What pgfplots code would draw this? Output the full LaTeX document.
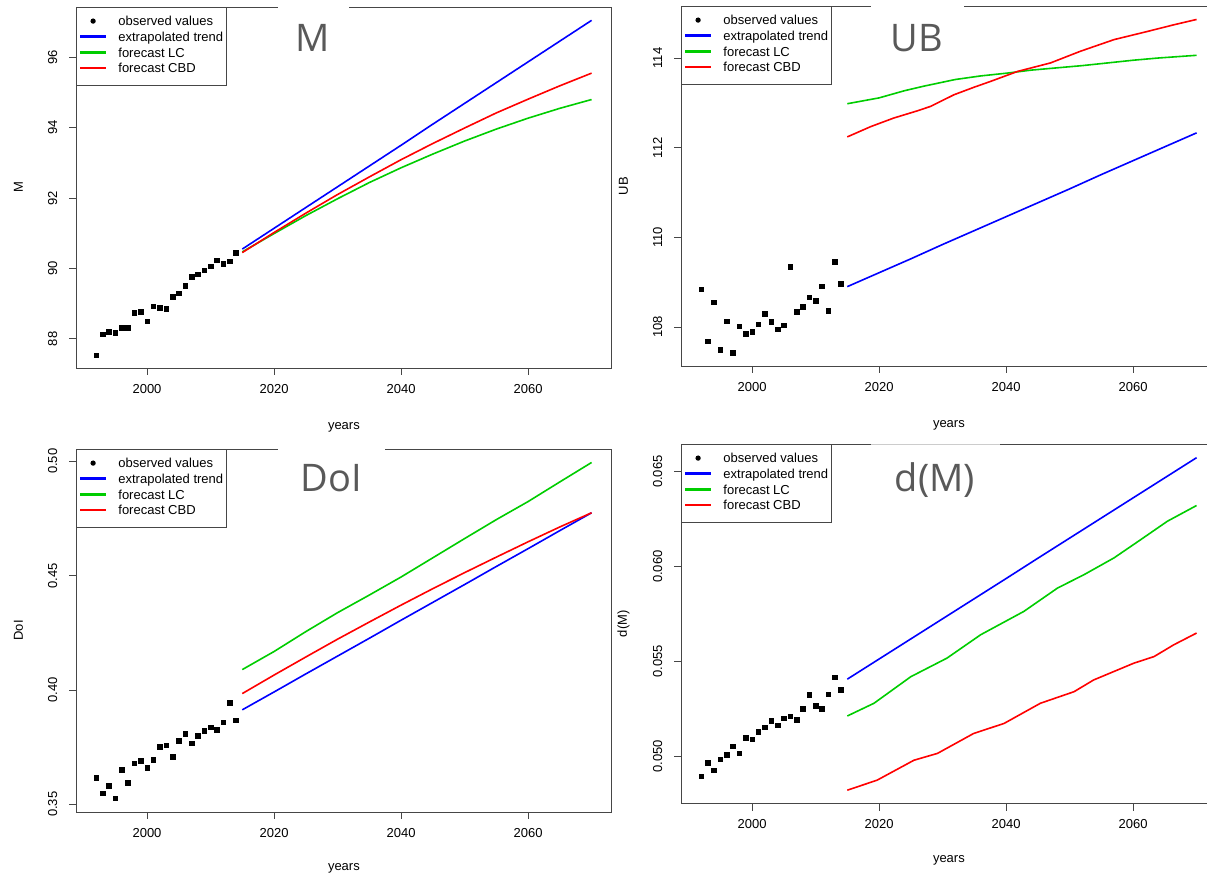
\documentclass[border=0pt]{standalone}
\usepackage{fontspec}
\setmainfont{Liberation Sans}
\newfontfamily\titlefont{Open Sans}
\usepackage{pgfplots}
\pgfplotsset{compat=1.18}
\definecolor{rblue}{RGB}{0,0,255}
\definecolor{rgreen}{RGB}{0,205,0}
\definecolor{rred}{RGB}{255,0,0}
\definecolor{boxgray}{RGB}{70,70,70}
\definecolor{titlegray}{RGB}{89,89,89}
\newcommand{\rfont}{\fontsize{13}{15.6}\selectfont}
\newcommand{\tfont}{\titlefont\fontsize{38}{40}\selectfont}
\pgfplotsset{
  rpanel/.style={
    scale only axis, width=535pt, clip=false, scaled ticks=false,
    xmin=1988.88, xmax=2073.12,
    xtick={2000,2020,2040,2060}, xticklabels={2000,2020,2040,2060},
    tick align=outside, tick pos=left, major tick length=7pt,
    tick style={boxgray, line width=0.8pt},
    axis line style={boxgray, line width=0.9pt},
    ticklabel style={font=\rfont, text=black},
    xticklabel style={inner xsep=0pt, inner ysep=9pt},
    yticklabel style={rotate=90, anchor=south, inner xsep=0pt, inner ysep=12pt},
    legend style={at={(0,1)}, anchor=north west, draw=boxgray, line width=0.8pt,
      fill=white, font=\rfont, inner xsep=3pt, inner ysep=9pt, row sep=2.7pt,
      column sep=12pt, nodes={inner sep=0pt, text height=9.5pt, text depth=3.5pt}},
    legend cell align=left,
  },
  obs/.style={only marks, mark=square*, mark size=2.3pt, black,
    legend image code/.code={\fill[black] (12.5pt,1.8pt) circle (2.2pt);}},
  trend/.style={rblue, line width=1.6pt,
    legend image code/.code={\fill[rblue] (0pt,1.5pt) rectangle (25pt,2.5pt);}},
  lc/.style={rgreen, line width=1.6pt,
    legend image code/.code={\fill[rgreen] (0pt,1.5pt) rectangle (25pt,2.5pt);}},
  cbd/.style={rred, line width=1.6pt,
    legend image code/.code={\fill[rred] (0pt,1.5pt) rectangle (25pt,2.5pt);}},
}
\begin{document}
\begin{tikzpicture}
\useasboundingbox (0,0) rectangle (1207pt,875pt);
\clip (0,0) rectangle (1207pt,875pt);
\fill[white] (0,0) rectangle (1207pt,875pt);

% ---------------- Panel 1: M ----------------
\begin{axis}[rpanel, at={(76.4pt,507pt)}, anchor=south west, height=361pt,
  ymin=87.17, ymax=97.43, ytick={88,90,92,94,96}, yticklabels={88,90,92,94,96}]
\addplot[obs] table {
1992 87.53
1993 88.13
1994 88.20
1995 88.17
1996 88.32
1997 88.32
1998 88.74
1999 88.77
2000 88.50
2001 88.93
2002 88.88
2003 88.85
2004 89.20
2005 89.30
2006 89.51
2007 89.76
2008 89.84
2009 89.95
2010 90.06
2011 90.23
2012 90.13
2013 90.20
2014 90.45
};
\addlegendentry{observed values}
\addplot[trend] table {
2015 90.55
2020 91.14
2025 91.73
2030 92.32
2035 92.91
2040 93.50
2045 94.10
2050 94.69
2055 95.28
2060 95.87
2065 96.46
2070 97.05
};
\addlegendentry{extrapolated trend}
\addplot[lc] table {
2015 90.47
2020 90.99
2025 91.50
2030 91.98
2035 92.44
2040 92.86
2045 93.25
2050 93.62
2055 93.96
2060 94.27
2065 94.55
2070 94.80
};
\addlegendentry{forecast LC}
\addplot[cbd] table {
2015 90.45
2020 91.02
2025 91.57
2030 92.10
2035 92.60
2040 93.09
2045 93.55
2050 93.99
2055 94.42
2060 94.81
2065 95.19
2070 95.55
};
\addlegendentry{forecast CBD}
\node[font=\rfont, rotate=90] at ([xshift=-58pt]rel axis cs:0,0.5) {M};
\node[font=\rfont] at ([yshift=-59pt]rel axis cs:0.5,0) {years};
\end{axis}

% ---------------- Panel 2: UB ----------------
\begin{axis}[rpanel, at={(681.4pt,509pt)}, anchor=south west, height=360pt,
  ymin=107.13, ymax=115.16, ytick={108,110,112,114}, yticklabels={108,110,112,114}]
\addplot[obs] table {
1992 108.84
1993 107.68
1994 108.55
1995 107.49
1996 108.13
1997 107.43
1998 108.02
1999 107.85
2000 107.90
2001 108.06
2002 108.29
2003 108.12
2004 107.95
2005 108.04
2006 109.34
2007 108.34
2008 108.45
2009 108.66
2010 108.59
2011 108.91
2012 108.36
2013 109.45
2014 108.97
};
\addlegendentry{observed values}
\addplot[trend] table {
2015 108.90
2020 109.21
2025 109.52
2030 109.84
2035 110.15
2040 110.46
2045 110.77
2050 111.08
2055 111.40
2060 111.71
2065 112.02
2070 112.33
};
\addlegendentry{extrapolated trend}
\addplot[lc] table {
2015 112.98
2020 113.11
2024 113.27
2027 113.37
2032 113.52
2036 113.60
2040 113.66
2044 113.73
2048 113.78
2052 113.83
2056 113.89
2060 113.95
2064 114.00
2070 114.06
};
\addlegendentry{forecast LC}
\addplot[cbd] table {
2015 112.24
2018.7 112.47
2022.3 112.66
2026 112.82
2028.1 112.92
2031.8 113.18
2035 113.35
2037.6 113.48
2041.8 113.70
2047.0 113.89
2051.7 114.15
2057.0 114.41
2062.2 114.59
2066.4 114.74
2070 114.86
};
\addlegendentry{forecast CBD}
\node[font=\rfont, rotate=90] at ([xshift=-58pt]rel axis cs:0,0.5) {UB};
\node[font=\rfont] at ([yshift=-59pt]rel axis cs:0.5,0) {years};
\end{axis}

% ---------------- Panel 3: DoI ----------------
\begin{axis}[rpanel, at={(76.4pt,63pt)}, anchor=south west, height=363pt,
  ymin=0.3466, ymax=0.5054, ytick={0.35,0.40,0.45,0.50}, yticklabels={0.35,0.40,0.45,0.50}]
\addplot[obs] table {
1992 0.3617
1993 0.3548
1994 0.3582
1995 0.3526
1996 0.3651
1997 0.3594
1998 0.3680
1999 0.3690
2000 0.3661
2001 0.3695
2002 0.3751
2003 0.3759
2004 0.3707
2005 0.3778
2006 0.3808
2007 0.3767
2008 0.3800
2009 0.3822
2010 0.3837
2011 0.3827
2012 0.3858
2013 0.3943
2014 0.3868
};
\addlegendentry{observed values}
\addplot[trend] table {
2015 0.3913
2020 0.3991
2025 0.4070
2030 0.4148
2035 0.4226
2040 0.4305
2045 0.4383
2050 0.4461
2055 0.4540
2060 0.4618
2065 0.4697
2070 0.4775
};
\addlegendentry{extrapolated trend}
\addplot[lc] table {
2015 0.4089
2020 0.4168
2025 0.4255
2030 0.4338
2035 0.4415
2040 0.4494
2045 0.4578
2050 0.4662
2055 0.4745
2060 0.4824
2065 0.4910
2070 0.4995
};
\addlegendentry{forecast LC}
\addplot[cbd] table {
2015 0.3984
2020 0.4065
2025 0.4144
2030 0.4222
2035 0.4297
2040 0.4371
2045 0.4443
2050 0.4513
2055 0.4581
2060 0.4648
2065 0.4713
2070 0.4775
};
\addlegendentry{forecast CBD}
\node[font=\rfont, rotate=90] at ([xshift=-58pt]rel axis cs:0,0.5) {DoI};
\node[font=\rfont] at ([yshift=-56pt]rel axis cs:0.5,0) {years};
\end{axis}

% ---------------- Panel 4: d(M) ----------------
\begin{axis}[rpanel, at={(681.4pt,71.5pt)}, anchor=south west, height=359.5pt,
  ymin=0.04752, ymax=0.06646, ytick={0.050,0.055,0.060,0.065}, yticklabels={0.050,0.055,0.060,0.065}]
\addplot[obs] table {
1992 0.04896
1993 0.04968
1994 0.04928
1995 0.04986
1996 0.05009
1997 0.05054
1998 0.05017
1999 0.05098
2000 0.05090
2001 0.05130
2002 0.05153
2003 0.05188
2004 0.05165
2005 0.05202
2006 0.05211
2007 0.05192
2008 0.05251
2009 0.05324
2010 0.05266
2011 0.05251
2012 0.05327
2013 0.05417
2014 0.05350
};
\addlegendentry{observed values}
\addplot[trend] table {
2015 0.05407
2020 0.05513
2025 0.05619
2030 0.05725
2035 0.05831
2040 0.05937
2045 0.06044
2050 0.06150
2055 0.06256
2060 0.06362
2065 0.06468
2070 0.06574
};
\addlegendentry{extrapolated trend}
\addplot[lc] table {
2015 0.05213
2019.2 0.05280
2025.0 0.05420
2030.7 0.05518
2036.0 0.05641
2042.8 0.05764
2048.1 0.05887
2052.3 0.05958
2057.0 0.06046
2061.2 0.06142
2065.4 0.06239
2070 0.06322
};
\addlegendentry{forecast LC}
\addplot[cbd] table {
2015 0.04822
2019.7 0.04875
2025.5 0.04980
2029.2 0.05016
2034.9 0.05121
2039.7 0.05174
2045.4 0.05280
2050.7 0.05341
2053.8 0.05403
2060.1 0.05491
2063.3 0.05526
2066.4 0.05588
2070 0.05650
};
\addlegendentry{forecast CBD}
\node[font=\rfont, rotate=90] at ([xshift=-58pt]rel axis cs:0,0.5) {d(M)};
\node[font=\rfont] at ([yshift=-56.5pt]rel axis cs:0.5,0) {years};
\end{axis}

% ---------------- title overlays ----------------
\fill[white] (278pt,875pt) rectangle (349pt,861pt);
\fill[white] (871pt,875pt) rectangle (964pt,861pt);
\fill[white] (278pt,433pt) rectangle (385pt,419pt);
\fill[white] (871pt,438pt) rectangle (1000pt,424pt);
\draw[black!20, line width=0.8pt] (871pt,431pt) -- (1000pt,431pt);
\node[font=\tfont, text=titlegray, anchor=base] at (313pt,823pt) {M};
\node[font=\tfont, text=titlegray, anchor=base] at (917pt,823pt) {UB};
\node[font=\tfont, text=titlegray, anchor=base] at (331pt,383pt) {DoI};
\node[font=\tfont, text=titlegray, anchor=base] at (935pt,383pt) {d(M)};
\end{tikzpicture}
\end{document}
